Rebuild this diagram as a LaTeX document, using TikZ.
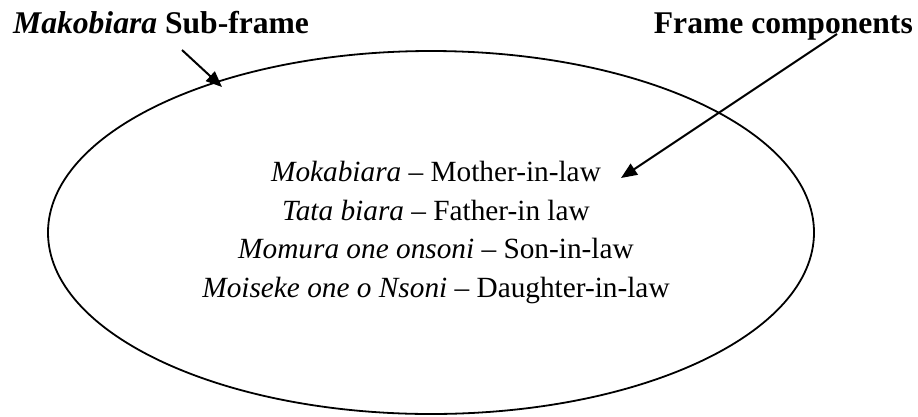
\documentclass[tikz,border=0pt]{standalone}
\usepackage{fontspec}
\setmainfont{Liberation Serif}
\usetikzlibrary{shapes.geometric,arrows.meta}
\begin{document}
\begin{tikzpicture}[x=1pt,y=-1pt,
  heading/.style={inner sep=0pt,font=\fontsize{31.6}{36}\selectfont\bfseries},
  term/.style={inner sep=0pt,anchor=base,font=\fontsize{29.3}{34}\selectfont},
  pointer/.style={line width=2pt,-{Triangle[length=16pt,width=13pt]}}]
  \useasboundingbox (0,0) rectangle (918,416);

  % headings
  \node[heading,anchor=base west] (sub) at (13,33) {\textit{Makobiara} Sub-frame};
  \node[heading,anchor=base east] (comp) at (913,33) {Frame components};

  % the sub-frame
  \node[ellipse,draw,line width=1.8pt,minimum width=766pt,minimum height=363pt,inner sep=0pt]
    (frame) at (431,232.5) {};

  % kinship terms
  \node[term] (l1) at (436,181.5) {\textit{Mokabiara} – Mother-in-law};
  \node[term] (l2) at (436,220.2) {\textit{Tata biara} – Father-in law};
  \node[term] (l3) at (436,258.9) {\textit{Momura one onsoni} – Son-in-law};
  \node[term] (l4) at (436,297.6) {\textit{Moiseke one o Nsoni} – Daughter-in-law};

  % pointers
  \coordinate (s1) at (182,50);
  \coordinate (t1) at (222,87);
  \coordinate (s2) at (837,34);
  \coordinate (t2) at (621,178);
  \draw[pointer] (s1) -- (t1);
  \draw[pointer] (s2) -- (t2);
\end{tikzpicture}
\end{document}
